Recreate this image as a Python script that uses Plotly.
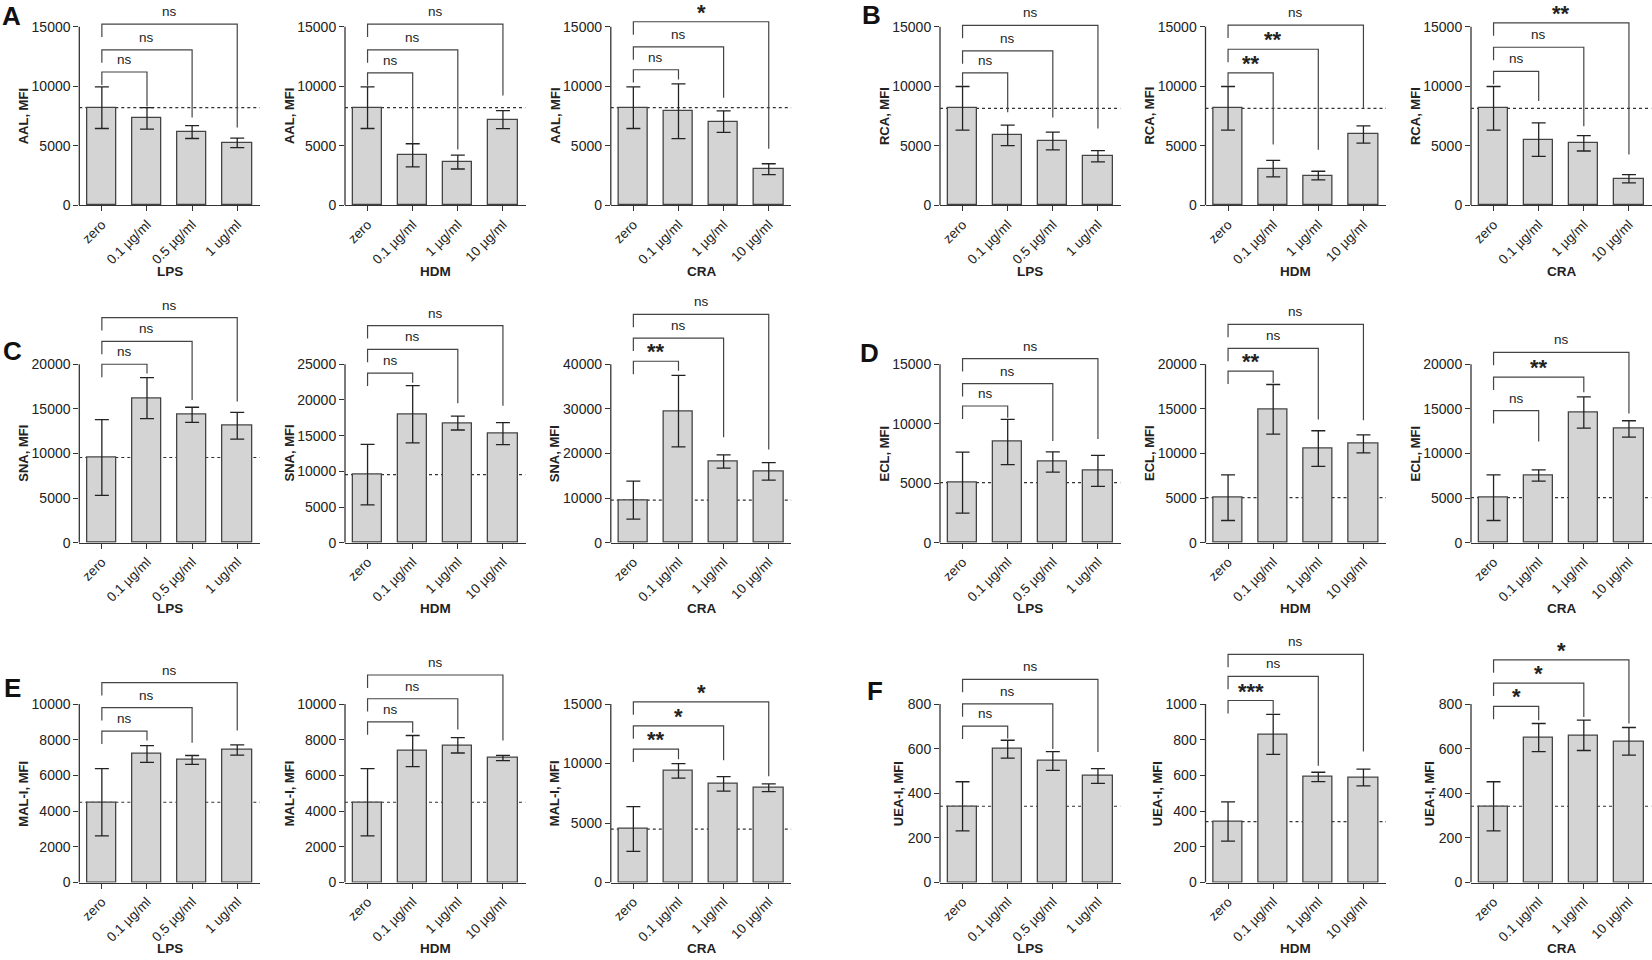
import plotly.graph_objects as go

# ---------------- data ----------------
STIMULI = ["LPS", "HDM", "CRA"]
CATS_LPS = ["zero", "0.1 µg/ml", "0.5 µg/ml", "1 ug/ml"]
CATS_DOSE = ["zero", "0.1 µg/ml", "1 µg/ml", "10 µg/ml"]
LECTINS = ["AAL", "RCA", "SNA", "ECL", "MAL-I", "UEA-I"]
PANEL_LETTERS = ["A", "B", "C", "D", "E", "F"]

# means per stimulus (LPS, HDM, CRA), 4 groups each
AAL_MEAN = [[8200, 7300, 6150, 5250], [8200, 4200, 3630, 7200], [8200, 7900, 7030, 3030]]
AAL_SD = [[1750, 900, 540, 400], [1750, 970, 580, 760], [1750, 2300, 900, 460]]
AAL_SIG = [["ns", "ns", "ns"], ["ns", "ns", "ns"], ["ns", "ns", "*"]]
AAL_BRACKET = [[11200, 13060, 15220], [11120, 13060, 15220], [11390, 13310, 15420]]
AAL_LEG = [[8290, 7375, 6540], [5210, 4685, 9230], [10560, 9040, 4740]]
AAL_YAXIS = [(15000, 5000), (15000, 5000), (15000, 5000)]

RCA_MEAN = [[8150, 5870, 5400, 4120], [8150, 3080, 2500, 5950], [8150, 5520, 5210, 2230]]
RCA_SD = [[1830, 860, 750, 470], [1830, 690, 360, 720], [1830, 1410, 650, 350]]
RCA_SIG = [["ns", "ns", "ns"], ["**", "**", "ns"], ["ns", "ns", "**"]]
RCA_BRACKET = [[11120, 12980, 15110], [11120, 13110, 15140], [11260, 13280, 15330]]
RCA_LEG = [[7820, 7375, 6460], [5100, 4660, 8200], [8760, 6630, 4270]]
RCA_YAXIS = [(15000, 5000), (15000, 5000), (15000, 5000)]

SNA_MEAN = [[9550, 16200, 14330, 13100], [9550, 18000, 16760, 15280], [9550, 29500, 18200, 16000]]
SNA_SD = [[4240, 2300, 850, 1500], [4240, 4000, 970, 1530], [4240, 8000, 1500, 1950]]
SNA_SIG = [["ns", "ns", "ns"], ["ns", "ns", "ns"], ["**", "ns", "ns"]]
SNA_BRACKET = [[20000, 22560, 25220], [23750, 27080, 30420], [40670, 45850, 51190]]
SNA_LEG = [[18960, 16000, 15820], [22410, 19540, 19170], [38520, 23630, 20890]]
SNA_YAXIS = [(20000, 5000), (25000, 5000), (40000, 10000)]

ECL_MEAN = [[5050, 8470, 6790, 6040], [5050, 14950, 10550, 11070], [5050, 7530, 14600, 12750]]
ECL_SD = [[2560, 1900, 850, 1310], [2560, 2780, 2000, 1010], [2560, 630, 1750, 920]]
ECL_SIG = [["ns", "ns", "ns"], ["**", "ns", "ns"], ["ns", "**", "ns"]]
ECL_BRACKET = [[11490, 13370, 15470], [19230, 21770, 24470], [14800, 18560, 21330]]
ECL_LEG = [[10500, 8550, 8720], [17900, 13800, 13730], [11330, 16860, 14470]]
ECL_YAXIS = [(15000, 5000), (20000, 5000), (20000, 5000)]

MAL_MEAN = [[4500, 7200, 6870, 7430], [4500, 7370, 7690, 6980], [4500, 9390, 8300, 7970]]
MAL_SD = [[1880, 470, 250, 290], [1880, 870, 430, 150], [1880, 610, 610, 320]]
MAL_SIG = [["ns", "ns", "ns"], ["ns", "ns", "ns"], ["**", "*", "*"]]
MAL_BRACKET = [[8480, 9800, 11200], [9000, 10300, 11630], [11220, 13170, 15190]]
MAL_LEG = [[7960, 7830, 8520], [8390, 8570, 7960], [10360, 10280, 8940]]
MAL_YAXIS = [(10000, 2000), (10000, 2000), (15000, 5000)]

UEA_MEAN = [[342, 598, 545, 478], [342, 830, 592, 589], [342, 650, 660, 633]]
UEA_SD = [[110, 40, 42, 33], [110, 112, 26, 47], [110, 63, 68, 62]]
UEA_SIG = [["ns", "ns", "ns"], ["***", "ns", "ns"], ["*", "*", "*"]]
UEA_BRACKET = [[701, 801, 911], [1020, 1155, 1279], [790, 894, 998]]
UEA_LEG = [[646, 599, 585], [946, 655, 734], [728, 742, 713]]
UEA_YAXIS = [(800, 200), (1000, 200), (800, 200)]

LECTIN_DATA = [
    (AAL_MEAN, AAL_SD, AAL_SIG, AAL_BRACKET, AAL_LEG, AAL_YAXIS),
    (RCA_MEAN, RCA_SD, RCA_SIG, RCA_BRACKET, RCA_LEG, RCA_YAXIS),
    (SNA_MEAN, SNA_SD, SNA_SIG, SNA_BRACKET, SNA_LEG, SNA_YAXIS),
    (ECL_MEAN, ECL_SD, ECL_SIG, ECL_BRACKET, ECL_LEG, ECL_YAXIS),
    (MAL_MEAN, MAL_SD, MAL_SIG, MAL_BRACKET, MAL_LEG, MAL_YAXIS),
    (UEA_MEAN, UEA_SD, UEA_SIG, UEA_BRACKET, UEA_LEG, UEA_YAXIS),
]

# ---------------- layout geometry / styles ----------------
FIG_W, FIG_H = 1652, 960
COL_LEFT = [79.3, 345.0, 610.8, 940.0, 1205.5, 1471.0]
COL_W = 180.5
ROW_ZERO = [207.0, 547.3, 890.0]
ROW_TOP = [2.0, 292.0, 632.0]
TICK_SPAN = 180.0
LETTER_POS = [(11, 16), (872, 15), (12, 354), (870, 356), (12, 694), (875, 697)]

FONT = "Arial, Liberation Sans, sans-serif"
INK = "#222222"
AXC = "#333333"
BAR_FILL = "#d4d4d4"
BAR_LINE = "#444444"
BRK = "#444444"

fig = go.Figure()
layout = dict(
    width=FIG_W, height=FIG_H, margin=dict(l=0, r=0, t=0, b=0),
    plot_bgcolor="white", paper_bgcolor="white", showlegend=False,
    font=dict(family=FONT, size=13, color=INK), bargap=0,
)
shapes = []
annotations = []

k = 0
for li, (means, sds, sigs, brackets, legs, yaxes) in enumerate(LECTIN_DATA):
    row = li // 2
    grp = li % 2
    for j, stim in enumerate(STIMULI):
        k += 1
        col = grp * 3 + j
        xa = "x" if k == 1 else f"x{k}"
        ya = "y" if k == 1 else f"y{k}"
        xkey = "xaxis" if k == 1 else f"xaxis{k}"
        ykey = "yaxis" if k == 1 else f"yaxis{k}"
        cats = CATS_LPS if stim == "LPS" else CATS_DOSE
        ymax, ystep = yaxes[j]
        units_per_px = ymax / TICK_SPAN
        dom_h = ROW_ZERO[row] - ROW_TOP[row]
        ytop = ymax * dom_h / TICK_SPAN
        yticks = list(range(0, ymax + 1, ystep))

        fig.add_trace(go.Bar(
            x=list(range(len(cats))), y=means[j], width=0.65,
            marker=dict(color=BAR_FILL, line=dict(color=BAR_LINE, width=1.3)),
            error_y=dict(type="data", array=sds[j], visible=True,
                         color=INK, thickness=1.3, width=7),
            xaxis=xa, yaxis=ya, hoverinfo="skip",
        ))

        layout[xkey] = dict(
            domain=[COL_LEFT[col] / FIG_W, min(1.0, (COL_LEFT[col] + COL_W) / FIG_W)],
            range=[-0.5, len(cats) - 0.5], anchor=ya,
            tickmode="array", tickvals=list(range(len(cats))), ticktext=cats,
            tickangle=-45, ticks="outside", ticklen=5, tickwidth=1.3, tickcolor=AXC,
            showline=True, linecolor=AXC, linewidth=1.3,
            showgrid=False, zeroline=False, fixedrange=True,
            tickfont=dict(family=FONT, size=13.5, color=INK),
        )
        layout[ykey] = dict(
            domain=[1 - ROW_ZERO[row] / FIG_H, 1 - ROW_TOP[row] / FIG_H],
            range=[0, ytop], anchor=xa,
            tickmode="array", tickvals=yticks, ticktext=[str(v) for v in yticks],
            ticks="outside", ticklen=5, tickwidth=1.3, tickcolor=AXC,
            showline=False, showgrid=False, zeroline=False, fixedrange=True,
            tickfont=dict(family=FONT, size=14, color=INK),
        )

        # y axis line only up to the top tick (Prism style)
        shapes.append(dict(type="line", xref=f"{xa} domain", yref=ya,
                           x0=0, x1=0, y0=0, y1=ymax,
                           line=dict(color=AXC, width=1.3)))
        # dotted reference line at the control mean
        shapes.append(dict(type="line", xref=xa, yref=ya,
                           x0=-0.5, x1=len(cats) - 0.5,
                           y0=means[j][0], y1=means[j][0],
                           line=dict(color=AXC, width=1.2, dash="dot"),
                           layer="below"))
        # significance brackets
        for b in range(3):
            lvl = brackets[j][b]
            xr = b + 1
            left_end = lvl - 13 * units_per_px
            path = f"M 0,{left_end} L 0,{lvl} L {xr},{lvl} L {xr},{legs[j][b]}"
            shapes.append(dict(type="path", path=path, xref=xa, yref=ya,
                               line=dict(color=BRK, width=1.2)))
            label = sigs[j][b]
            is_star = label.startswith("*")
            annotations.append(dict(
                x=xr / 2, y=lvl, xref=xa, yref=ya, text=label, showarrow=False,
                xanchor="center", yanchor="bottom", yshift=-5 if is_star else 3,
                font=dict(family=FONT, size=22 if is_star else 13.5, color=INK,
                          weight="bold" if is_star else "normal"),
            ))

        # axis titles
        ndig = len(str(ymax))
        annotations.append(dict(
            x=0, y=ymax / 2, xref=f"{xa} domain", yref=ya,
            xshift=-(19 + 7.4 * ndig), text=f"<b>{LECTINS[li]}, MFI</b>",
            textangle=-90, showarrow=False, xanchor="center", yanchor="middle",
            font=dict(family=FONT, size=13, color=INK),
        ))
        annotations.append(dict(
            x=0.5, y=0, xref=f"{xa} domain", yref=f"{ya} domain", yshift=-66,
            text=f"<b>{stim}</b>", showarrow=False,
            xanchor="center", yanchor="middle",
            font=dict(family=FONT, size=13.5, color=INK),
        ))

# panel letters
for letter, (px, py) in zip(PANEL_LETTERS, LETTER_POS):
    annotations.append(dict(
        x=px / FIG_W, y=1 - py / FIG_H, xref="paper", yref="paper",
        text=f"<b>{letter}</b>", showarrow=False,
        xanchor="center", yanchor="middle",
        font=dict(family=FONT, size=26, color="#111111"),
    ))

layout["shapes"] = shapes
layout["annotations"] = annotations
fig.update_layout(**layout)
fig.write_html("out.html", config={"displayModeBar": False},
               post_script="document.body.style.margin='0px';")
